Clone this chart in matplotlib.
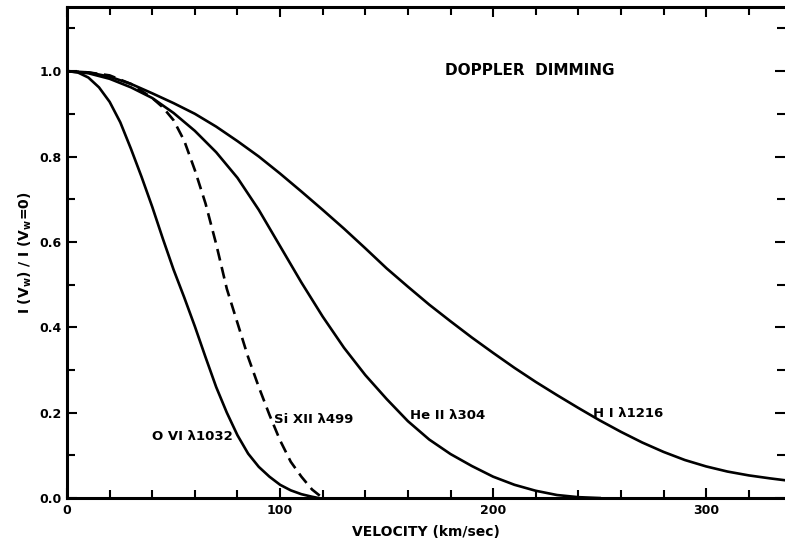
import numpy as np
import matplotlib
matplotlib.use('Agg')
import matplotlib.pyplot as plt
from matplotlib.ticker import MultipleLocator, FixedLocator

# Curvas de "Doppler dimming" (velocidad en km/s)
v_ovi = [0, 5, 10, 15, 20, 25, 30, 35, 40, 45, 50, 55, 60, 65, 70, 75, 80, 85, 90,
         95, 100, 105, 110, 115, 118]
i_ovi = [1.0, 0.997, 0.985, 0.962, 0.928, 0.88, 0.818, 0.752, 0.682, 0.607, 0.535,
         0.47, 0.402, 0.33, 0.26, 0.2, 0.147, 0.104, 0.073, 0.05, 0.031, 0.018,
         0.009, 0.003, 0.0]

v_sixii = [0, 10, 20, 30, 40, 45, 50, 55, 60, 65, 70, 75, 80, 85, 90, 95, 100, 105,
           110, 115, 120]
i_sixii = [1.0, 0.997, 0.99, 0.97, 0.937, 0.915, 0.885, 0.837, 0.768, 0.69, 0.595,
           0.49, 0.41, 0.33, 0.26, 0.195, 0.135, 0.085, 0.05, 0.02, 0.0]

v_heii = [0, 10, 20, 30, 40, 50, 60, 70, 80, 90, 100, 110, 120, 130, 140, 150, 160,
          170, 180, 190, 200, 210, 220, 230, 240, 250]
i_heii = [1.0, 0.995, 0.982, 0.962, 0.937, 0.902, 0.86, 0.81, 0.75, 0.675, 0.59,
          0.505, 0.425, 0.352, 0.288, 0.232, 0.18, 0.137, 0.103, 0.075, 0.05, 0.031,
          0.017, 0.007, 0.002, 0.0]

v_hi = [0, 10, 20, 30, 40, 50, 60, 70, 80, 90, 100, 110, 120, 130, 140, 150, 160, 170,
        180, 190, 200, 210, 220, 230, 240, 250, 260, 270, 280, 290, 300, 310, 320, 330, 338]
i_hi = [1.0, 0.997, 0.987, 0.97, 0.948, 0.925, 0.9, 0.87, 0.836, 0.80, 0.76, 0.718,
        0.675, 0.631, 0.585, 0.538, 0.495, 0.453, 0.414, 0.376, 0.34, 0.305, 0.272,
        0.241, 0.211, 0.182, 0.155, 0.13, 0.108, 0.089, 0.074, 0.062, 0.053, 0.046, 0.041]

etiquetas = ['O VI λ1032', 'Si XII λ499', 'He II λ304', 'H I λ1216']
pos_etiquetas = [(40, 0.143), (97, 0.183), (161, 0.194), (247, 0.199)]

plt.rcParams['font.family'] = ['DejaVu Sans']
plt.rcParams['font.weight'] = 'bold'

fig = plt.figure(figsize=(7.85, 5.45), dpi=100)
ax = fig.add_axes([0.0854, 0.0862, 0.9146, 0.9008])

lw = 1.9
ax.plot(v_ovi, i_ovi, color='black', lw=lw)
ax.plot(v_sixii, i_sixii, color='black', lw=lw, linestyle=(0, (4.5, 2.5)))
ax.plot(v_heii, i_heii, color='black', lw=lw)
ax.plot(v_hi, i_hi, color='black', lw=lw)

for txt, (x, y) in zip(etiquetas, pos_etiquetas):
    ax.text(x, y, txt, fontsize=9.5, fontweight='bold', va='center', ha='left')

ax.text(177.5, 1.002, 'DOPPLER  DIMMING', fontsize=11, fontweight='bold',
        va='center', ha='left')

ax.set_xlim(0, 337)
ax.set_ylim(0, 1.15)

ax.xaxis.set_major_locator(FixedLocator([0, 100, 200, 300]))
ax.xaxis.set_minor_locator(MultipleLocator(20))
ax.yaxis.set_major_locator(FixedLocator([0, 0.2, 0.4, 0.6, 0.8, 1.0]))
ax.yaxis.set_minor_locator(MultipleLocator(0.1))
ax.set_yticklabels(['0.0', '0.2', '0.4', '0.6', '0.8', '1.0'])

ax.tick_params(which='both', direction='in', top=True, right=True, width=1.5,
               labelsize=9, pad=4)
ax.tick_params(which='major', length=7)
ax.tick_params(which='minor', length=6)

for s in ['left', 'bottom', 'top']:
    ax.spines[s].set_linewidth(2.2)
ax.spines['right'].set_visible(False)

ax.set_xlabel('VELOCITY (km/sec)', fontsize=10, fontweight='bold', labelpad=6)
ax.set_ylabel('I (V$_\\mathbf{w}$) / I (V$_\\mathbf{w}$=0)', fontsize=10,
              fontweight='bold', labelpad=4)

fig.savefig('out.png', dpi=100)
